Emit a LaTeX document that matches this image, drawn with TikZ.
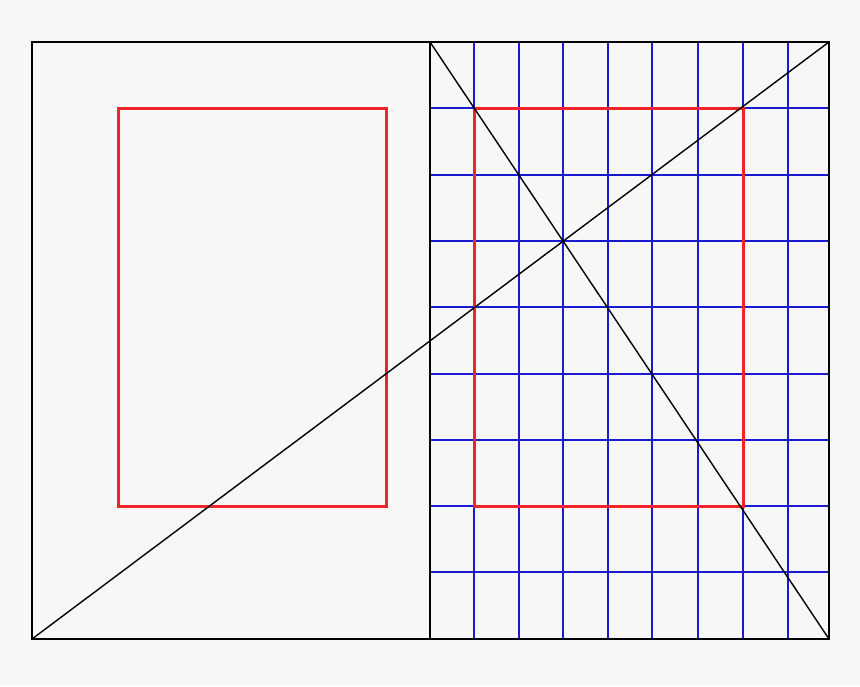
\documentclass[tikz,border=0pt]{standalone}
\begin{document}
\begin{tikzpicture}[x=1pt,y=-1pt,
  frame/.style={draw=black,line width=2.5pt},
  gridline/.style={draw=gridblue,line width=2pt},
  textblock/.style={draw=textred,line width=3pt},
  diag/.style={draw=black,line width=1.4pt}]
\definecolor{bg}{HTML}{F7F7F7}
\definecolor{gridblue}{HTML}{1A1AD0}
\definecolor{textred}{HTML}{F0222A}
\fill[bg] (0,0) rectangle (860,686);
\useasboundingbox (0,0) rectangle (860,686);
\coordinate (TL) at (32,42);
\coordinate (BR) at (829,639);
\coordinate (TM) at (430,42);
\coordinate (BM) at (430,639);
\coordinate (BL) at (32,639);
\coordinate (TR) at (829,42);
% blue grid on right page
\foreach \x in {474,519,563,608,652,698,743,788}{
  \draw[gridline] (\x,42) -- (\x,639);
}
\foreach \y in {108,175,241,307,374,440,506,572}{
  \draw[gridline] (430,\y) -- (829,\y);
}
% red text blocks
\draw[textblock] (118,108) rectangle (386,506);
\draw[textblock] (474,108) rectangle (743,506);
% diagonals
\draw[diag] (BL) -- (TR);
\draw[diag] (TM) -- (BR);
% frame
\draw[frame] (TL) rectangle (BR);
\draw[frame] (TM) -- (BM);
\end{tikzpicture}
\end{document}
